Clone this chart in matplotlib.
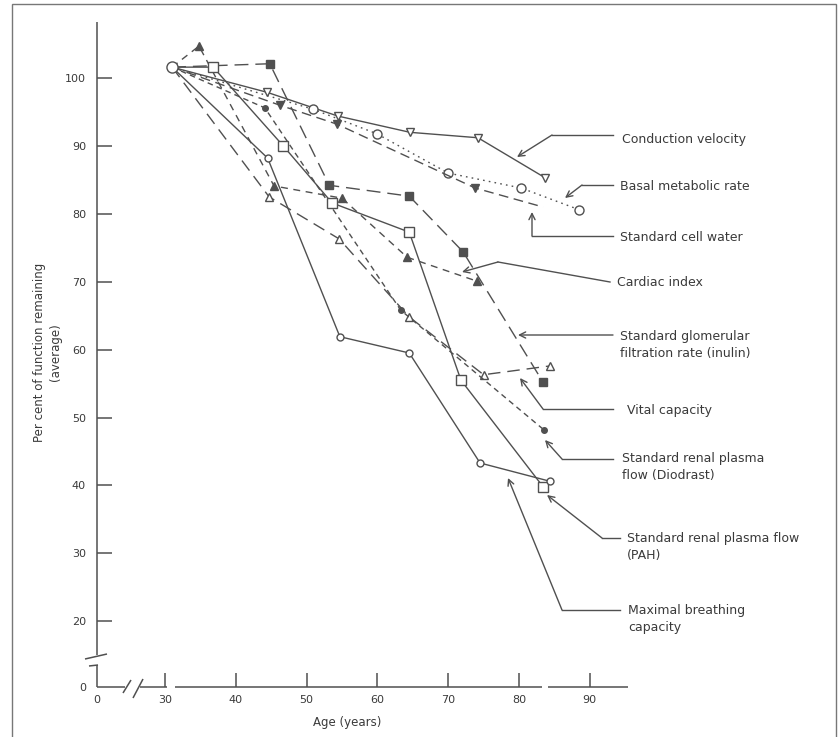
import matplotlib
matplotlib.use("Agg")
import matplotlib.pyplot as plt
from matplotlib.patches import Rectangle

# ---------------- data (age in years, per cent of function remaining) -------------
start_age, start_pct = 31.0, 101.6

conduction_age = [31.0, 44.4, 54.4, 64.6, 74.2, 83.7]
conduction_pct = [101.6, 97.9, 94.4, 92.0, 91.2, 85.3]

basal_age = [31.0, 50.9, 59.9, 70.0, 80.3, 88.5]
basal_pct = [101.6, 95.4, 91.8, 86.0, 83.8, 80.6]

cellwater_age = [31.0, 46.2, 54.3, 73.8, 83.4]
cellwater_pct = [101.6, 96.0, 93.2, 83.8, 81.0]

cardiac_age = [31.0, 34.8, 45.4, 55.0, 64.2, 74.0]
cardiac_pct = [101.6, 104.7, 84.1, 82.3, 73.6, 70.1]

gfr_age = [31.0, 44.7, 54.6, 64.5, 75.0, 84.4]
gfr_pct = [101.6, 82.5, 76.3, 64.8, 56.3, 57.6]

vital_age = [31.0, 44.8, 53.2, 64.5, 72.1, 83.4]
vital_pct = [101.6, 102.1, 84.2, 82.6, 74.4, 55.2]

diodrast_age = [31.0, 44.1, 63.3, 83.5]
diodrast_pct = [101.6, 95.6, 65.8, 48.2]

pah_age = [31.0, 36.8, 46.7, 53.6, 64.5, 71.8, 83.4]
pah_pct = [101.6, 101.6, 90.0, 81.6, 77.3, 55.5, 39.8]

breathing_age = [31.0, 44.5, 54.7, 64.5, 74.5, 84.4]
breathing_pct = [101.6, 88.2, 61.9, 59.5, 43.3, 40.6]

y_ticks = [20, 30, 40, 50, 60, 70, 80, 90, 100]
x_ticks = [30, 40, 50, 60, 70, 80, 90]

labels = ["Conduction velocity", "Basal metabolic rate", "Standard cell water",
          "Cardiac index", "Standard glomerular\nfiltration rate (inulin)",
          "Vital capacity", "Standard renal plasma\nflow (Diodrast)",
          "Standard renal plasma flow\n(PAH)", "Maximal breathing\ncapacity"]

# ---------------- layout helpers (image pixel -> data, for layout only) -------------
W, H = 840, 737
def X(px):
    return 30 + (px - 165) / 7.08
def Y(py):
    return 100 - (py - 78) / 6.79

LC = "#505050"   # line colour
TC = "#3a3a3a"   # text colour

fig = plt.figure(figsize=(W / 100, H / 100), dpi=100)
fig.patch.set_facecolor("white")
ax = fig.add_axes([97 / W, (H - 687) / H, (W - 97) / W, 687 / H])
ax.set_xlim(X(97), X(W))
ax.set_ylim(Y(687), Y(0))
for s in ax.spines.values():
    s.set_visible(False)
ax.patch.set_alpha(0)

# ticks
ax.set_yticks(y_ticks)
ax.set_yticklabels([str(v) for v in y_ticks])
ax.set_xticks(x_ticks)
ax.set_xticklabels([str(v) for v in x_ticks])
ax.set_xticks([X(97)], minor=True)
ax.set_xticklabels(["0"], minor=True)
ax.set_yticks([Y(687)], minor=True)
ax.set_yticklabels(["0"], minor=True)
ax.tick_params(axis="y", which="major", direction="in", length=11, width=1.1,
               pad=8, labelsize=8, colors=LC, labelcolor=TC)
ax.tick_params(axis="x", which="major", direction="in", length=10, width=1.1,
               pad=6, labelsize=8, colors=LC, labelcolor=TC)
ax.tick_params(axis="y", which="minor", length=0, pad=8, labelsize=8, labelcolor=TC)
ax.tick_params(axis="x", which="minor", length=0, pad=6, labelsize=8, labelcolor=TC)

# broken axes lines
ak = dict(color=LC, lw=1.1, clip_on=False, solid_capstyle="butt")
ax.plot([X(97), X(97)], [Y(22), Y(655)], **ak)
ax.plot([X(85), X(107)], [Y(659), Y(654)], **ak)
ax.plot([X(89), X(98)], [Y(666), Y(665)], **ak)
ax.plot([X(97), X(97)], [Y(665), Y(687)], **ak)
ax.plot([X(97), X(125)], [Y(687), Y(687)], **ak)
ax.plot([X(123), X(131)], [Y(693), Y(680)], **ak)
ax.plot([X(133), X(143)], [Y(698), Y(679)], **ak)
ax.plot([X(140), X(167)], [Y(687), Y(687)], **ak)
ax.plot([X(175), X(542)], [Y(687), Y(687)], **ak)
ax.plot([X(548), X(628)], [Y(687), Y(687)], **ak)

# ---------------- series -------------
def draw(xs, ys, ls, marker, ms, filled, mev=None):
    if mev is None:
        mev = list(range(1, len(xs)))
    ax.plot(xs, ys, linestyle=ls, color=LC, lw=1.0, marker=marker, ms=ms,
            markevery=mev, mec=LC, mew=1.0,
            mfc=LC if filled else "white", clip_on=False, zorder=3)

draw(conduction_age, conduction_pct, "-", "v", 6, False)
draw(basal_age, basal_pct, (0, (1.2, 3)), "o", 6.5, False)
draw(cellwater_age, cellwater_pct, (0, (7, 4)), "v", 5.5, True, mev=[1, 2, 3])
draw(cardiac_age, cardiac_pct, (0, (5, 4)), "^", 6, True)
draw(gfr_age, gfr_pct, (0, (9, 5)), "^", 5.5, False)
draw(vital_age, vital_pct, (0, (10, 5)), "s", 5.5, True)
draw(diodrast_age, diodrast_pct, (0, (4, 3)), "o", 4, True)
draw(pah_age, pah_pct, "-", "s", 7, False)
draw(breathing_age, breathing_pct, "-", "o", 5, False)
ax.plot([start_age], [start_pct], marker="o", ms=8, mfc="white", mec=LC,
        mew=1.0, zorder=4, clip_on=False)

# ---------------- labels with leader arrows (pixel layout) -------------
leaders = [
    ((622, 139), [(613, 135), (552, 135), (517, 157)]),
    ((620, 186), [(613, 185), (582, 185), (565, 198)]),
    ((620, 237), [(613, 236), (532, 236), (532, 212)]),
    ((617, 283), [(610, 282), (498, 262), (462, 272)]),
    ((620, 345), [(613, 335), (518, 335)]),
    ((627, 410), [(613, 409), (543, 409), (520, 378)]),
    ((622, 467), [(613, 459), (562, 459), (545, 440)]),
    ((627, 547), [(620, 538), (602, 538), (547, 495)]),
    ((628, 619), [(620, 610), (562, 610), (508, 478)]),
]
for text, ((lx, ly), path) in zip(labels, leaders):
    ax.text(X(lx), Y(ly), text, ha="left", va="center", fontsize=9,
            color=TC, linespacing=1.45, clip_on=False)
    xs = [X(p[0]) for p in path]
    ys = [Y(p[1]) for p in path]
    if len(path) > 2:
        ax.plot(xs[:-1], ys[:-1], color=LC, lw=1.0, clip_on=False)
    ax.annotate("", xy=(xs[-1], ys[-1]), xytext=(xs[-2], ys[-2]),
                arrowprops=dict(arrowstyle="->", color=LC, lw=1.0,
                                shrinkA=0, shrinkB=0, mutation_scale=11))

# axis titles
ax.text(X(347), Y(722), "Age (years)", ha="center", va="center", fontsize=8.5,
        color=TC, clip_on=False)
ax.text(X(47), Y(352), "Per cent of function remaining\n(average)", ha="center",
        va="center", rotation=90, fontsize=8.5, color=TC, linespacing=1.3,
        clip_on=False)

# outer frame
fig.patches.append(Rectangle((12 / W, -0.01), (836 - 12) / W, 1.01 - 4 / H,
                             transform=fig.transFigure, fill=False,
                             edgecolor="#777777", lw=1.0))

fig.savefig("out.png", dpi=100)
